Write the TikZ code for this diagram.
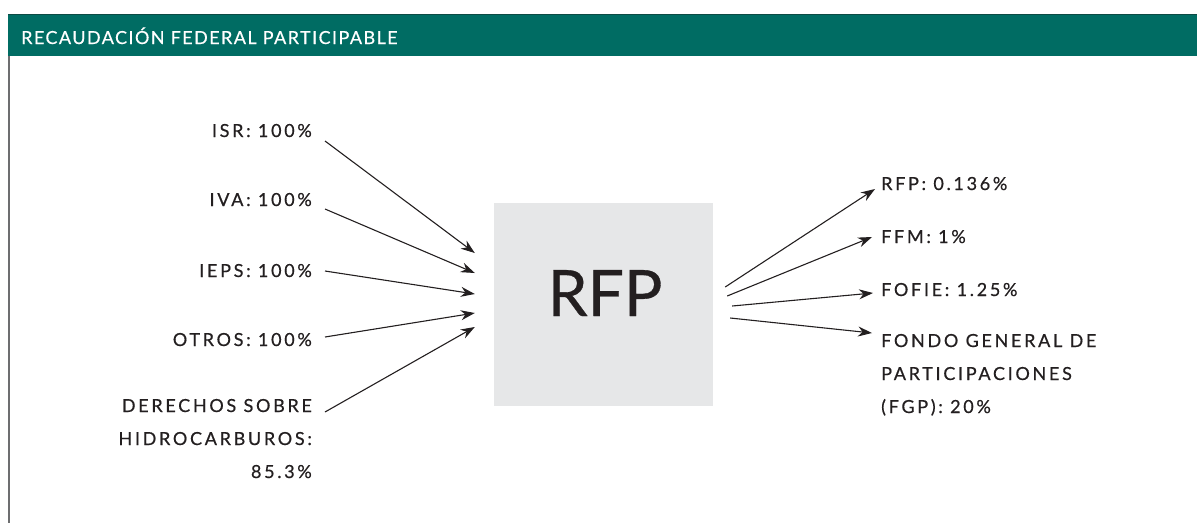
\documentclass[tikz,border=0pt]{standalone}
\usepackage{fontspec}
\setmainfont{Lato}
\newfontfamily\labfont[LetterSpace=15,FakeBold=0.6]{Lato}
\newfontfamily\headfont[LetterSpace=8,FakeBold=0.4]{Lato}
\newfontfamily\bigfont[FakeBold=0.5]{Lato}
\usetikzlibrary{arrows.meta}
\definecolor{bandgreen}{HTML}{006C63}
\definecolor{bandline}{HTML}{0D4A44}
\definecolor{rulegray}{HTML}{6D6E70}
\definecolor{boxgray}{HTML}{E6E7E8}
\definecolor{ink}{HTML}{231F20}
\begin{document}
\begin{tikzpicture}[x=1pt,y=-1pt,
  lab/.style={font=\labfont\fontsize{18}{33}\selectfont, text=ink, inner sep=0pt},
  arr/.style={-{Stealth[length=14pt,width=10pt]}, line width=1.1pt, draw=ink}]
\useasboundingbox (0,0) rectangle (1197,523);
% header band and frame
\fill[bandgreen] (8,14) rectangle (1197,56);
\draw[bandline, line width=1.5pt] (8,14.5) -- (1197,14.5);
\draw[rulegray, line width=2pt] (9,56) -- (9,523);
\node[anchor=base west, font=\headfont\fontsize{18}{22}\selectfont, text=white, inner sep=0pt] (title) at (21,44) {RECAUDACIÓN FEDERAL PARTICIPABLE};

% central box
\node[fill=boxgray, minimum width=219pt, minimum height=203pt, inner sep=0pt] (box) at (603.5,304.5) {};
\node[font=\bigfont\fontsize{64}{70}\selectfont, anchor=base, inner sep=0pt, text=ink] (rfp) at (605,316) {RFP};

% sources (multi-line nodes sit on the baseline of their last line)
\node[lab, anchor=base east] (isr) at (312,137) {ISR: 100\%};
\node[lab, anchor=base east] (iva) at (312,206) {IVA: 100\%};
\node[lab, anchor=base east] (ieps) at (312,277) {IEPS: 100\%};
\node[lab, anchor=base east] (otros) at (312,346) {OTROS: 100\%};
\node[lab, anchor=base east, align=right] (der) at (312,478) {DERECHOS SOBRE\\HIDROCARBUROS:\\85.3\%};

\draw[arr] ([shift={(13,4)}]isr.base east) -- ([shift={(-19,-51.5)}]box.west);
\draw[arr] ([shift={(13,3)}]iva.base east) -- ([shift={(-19,-31.5)}]box.west);
\draw[arr] ([shift={(13,-6)}]ieps.base east) -- ([shift={(-19,-10.5)}]box.west);
\draw[arr] ([shift={(13,-9)}]otros.base east) -- ([shift={(-19,8.5)}]box.west);
\draw[arr] ([shift={(13,-66)}]der.base east) -- ([shift={(-19,22.5)}]box.west);

% destinations
\node[lab, anchor=base west] (o1) at (881,190) {RFP: 0.136\%};
\node[lab, anchor=base west] (o2) at (881,243) {FFM: 1\%};
\node[lab, anchor=base west] (o3) at (881,296) {FOFIE: 1.25\%};
\node[lab, anchor=base west, align=left] (o4) at (881,413) {FONDO GENERAL DE\\PARTICIPACIONES\\(FGP): 20\%};

\draw[arr] ([shift={(12,-17.5)}]box.east) -- ([shift={(-6,-1)}]o1.base west);
\draw[arr] ([shift={(14,-8.5)}]box.east) -- ([shift={(-9,-6)}]o2.base west);
\draw[arr] ([shift={(19,1.5)}]box.east) -- ([shift={(-8,-3)}]o3.base west);
\draw[arr] ([shift={(17,13.5)}]box.east) -- ([shift={(-9,-80)}]o4.base west);
\end{tikzpicture}
\end{document}
